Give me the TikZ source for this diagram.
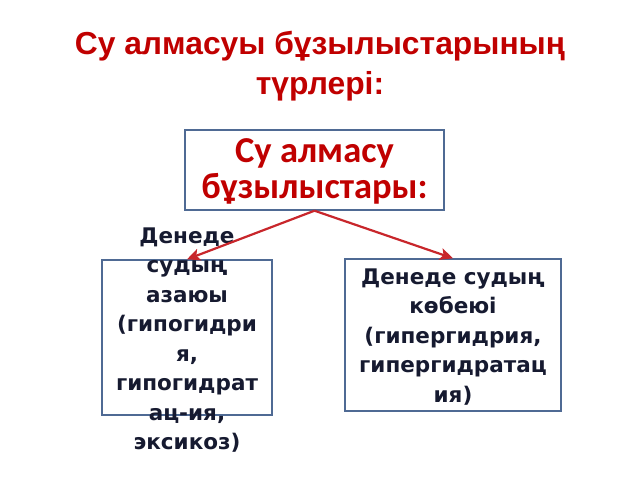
\documentclass[tikz,border=0pt]{standalone}
\usepackage{fontspec}
\setmainfont{Liberation Sans}
\newfontfamily\titlefont{Liberation Sans}
\newfontfamily\headfont{Carlito}
\newfontfamily\bodyfont{DejaVu Sans}
\usetikzlibrary{arrows.meta}
\definecolor{titlered}{HTML}{C00000}
\definecolor{arrowred}{HTML}{C8262B}
\definecolor{boxblue}{HTML}{4F6A94}
\definecolor{bodyink}{HTML}{161A30}
\tikzset{
  titlestyle/.style={text=titlered, align=center, inner sep=0pt,
    font=\titlefont\bfseries\fontsize{31.8}{40}\selectfont},
  boxstyle/.style={draw=boxblue, line width=1.4pt, fill=none, inner sep=0pt},
  headtext/.style={text=titlered, inner sep=0pt, anchor=base,
    font=\headfont\bfseries\fontsize{36.5}{37}\selectfont},
  bodytext/.style={text=bodyink, align=center, inner sep=0pt,
    font=\bodyfont\bfseries\fontsize{21.5}{29.5}\selectfont},
  arr/.style={draw=arrowred, line width=2.2pt, -{Stealth[length=13pt,width=12pt,inset=3pt]}}
}
\begin{document}
\begin{tikzpicture}[x=1pt,y=-1pt]
\useasboundingbox (0,0) rectangle (640,480);
\node[titlestyle] (title) at (320,66) {Су алмасуы бұзылыстарының\\түрлері:};
\node[boxstyle, minimum width=259pt, minimum height=80pt] (topbox) at (314.5,170) {};
\node[headtext] (toptext1) at (314.5,162) {Су алмасу};
\node[headtext] (toptext2) at (314.5,198) {бұзылыстары:};
\node[boxstyle, minimum width=170pt, minimum height=155pt] (leftbox) at (187,337.5) {};
\node[bodytext] (lefttext) at (187,340) {Денеде\\судың\\азаюы\\(гипогидри\\я,\\гипогидрат\\ац-ия,\\эксикоз)};
\node[boxstyle, minimum width=216pt, minimum height=152pt] (rightbox) at (453,335) {};
\node[bodytext] (righttext) at (453,337) {Денеде судың\\көбеюі\\(гипергидрия,\\гипергидратац\\ия)};
\draw[arr] (topbox.south) -- (leftbox.north);
\draw[arr] (topbox.south) -- (rightbox.north);
\end{tikzpicture}
\end{document}
